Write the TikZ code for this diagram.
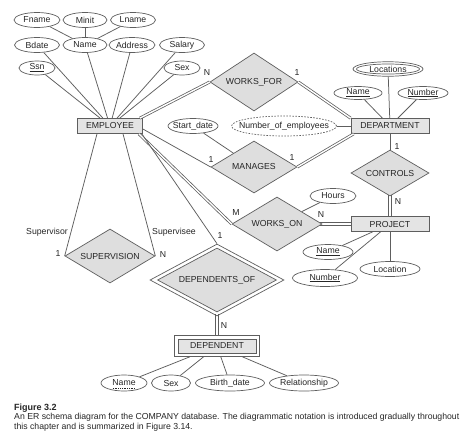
\documentclass[tikz,border=0pt]{standalone}
\usepackage{fontspec}
\setmainfont{Liberation Sans}
\usetikzlibrary{shapes.geometric,calc}
\definecolor{edge}{HTML}{5E5E5E}
\definecolor{boxfill}{HTML}{E4E4E4}
\definecolor{relfill}{HTML}{DEDEDE}
\definecolor{ink}{HTML}{262626}
\newcommand\zw[1]{\makebox[0pt]{#1}}
\newsavebox\ulbox
\newcommand\dotul[1]{\sbox\ulbox{#1}\rlap{\raisebox{-2.3pt}[0pt][0pt]{\hbox to\wd\ulbox{\xleaders\hbox to 1.7pt{\hss\rule{0.85pt}{0.45pt}\hss}\hfill}}}\copy\ulbox}
\tikzset{
  base/.style={font=\fontsize{8.7}{10}\selectfont, text=ink},
  entity/.style={base, rectangle, draw=edge, fill=boxfill, line width=0.7pt, minimum width=#1, minimum height=15pt, inner sep=0pt},
  attr/.style={base, ellipse, draw=edge, fill=white, line width=0.7pt, minimum width=#1, minimum height=15pt, inner sep=0pt},
  rel/.style 2 args={base, diamond, draw=edge, fill=relfill, line width=0.7pt, minimum width=#1, minimum height=#2, inner sep=0pt},
  conn/.style={draw=edge, line width=0.75pt},
  dconn/.style={draw=white, line width=1.4pt, preaction={draw=edge, line width=2.9pt}},
  card/.style={base, inner sep=0pt},
  capt/.style={font=\fontsize{8.7}{10}\selectfont, text=ink, inner sep=0pt, anchor=base west},
}
\begin{document}
\begin{tikzpicture}[x=1pt, y=-1pt]
\useasboundingbox (0,0) rectangle (474,437);
\fill[white] (0,0) rectangle (474,437);

% ---------- EMPLOYEE ----------
\node[entity=65] (emp) at (110,126) {EMPLOYEE};
\node[attr=46] (fname) at (37,20) {\zw{Fname}};
\node[attr=44] (minit) at (85,20) {\zw{Minit}};
\node[attr=45] (lname) at (133,20) {\zw{Lname}};
\node[attr=45] (bdate) at (37,45) {\zw{Bdate}};
\node[attr=44] (ename) at (85,45) {\zw{Name}};
\node[attr=46] (addr) at (132,45) {\zw{Address}};
\node[attr=45] (salary) at (182,45) {\zw{Salary}};
\node[attr=36,minimum height=14pt] (ssn) at (37,68) {\zw{\underline{Ssn}}};
\node[attr=36,minimum height=14pt] (sex) at (182,68) {\zw{Sex}};

\draw[conn] (fname) -- (ename);
\draw[conn] (minit) -- (ename);
\draw[conn] (lname) -- (ename);
\foreach \a in {ssn,bdate,ename,addr,salary,sex}
  \draw[conn] (\a) -- (emp);

% ---------- DEPARTMENT ----------
\node[entity=78] (dept) at (390,126) {DEPARTMENT};
\node[attr=70, minimum height=14.5pt] (locs) at (388,69) {};
\node[attr=63, minimum height=10pt] (locsin) at (locs.center) {\zw{Locations}};
\node[attr=48, minimum height=13pt] (dname) at (358,93) {\zw{\underline{Name}}};
\node[attr=50, minimum height=13pt] (dnum) at (423,93) {\zw{\underline{Number}}};
\node[attr=105, minimum height=20pt, dash pattern=on 1.6pt off 1.4pt] (nemp) at (284,126) {\zw{Number\_of\_employees}};
\draw[conn] (locs) -- (dept);
\draw[conn] (dname) -- (dept);
\draw[conn] (dnum) -- (dept);
\draw[conn] (nemp) -- (dept);

% ---------- WORKS_FOR ----------
\node[rel={88}{58}] (wf) at (254,82) {\zw{WORKS\_FOR}};
\draw[dconn] ($(emp.north east)+(-3,0)$) -- (wf.west);
\draw[dconn] (wf.east) -- (dept.north west);
\node[card] (wfn) at (207,73) {N};
\node[card] (wf1) at (297,73) {1};

% ---------- MANAGES ----------
\node[attr=50] (sdate) at (193,126) {\zw{Start\_date}};
\node[rel={86}{52}] (man) at (254,167) {\zw{MANAGES}};
\draw[conn] ($(emp.east)+(0,3)$) -- (man.west);
\draw[dconn] (man.east) -- ($(dept.south west)+(3,0)$);
\draw[conn] (sdate) -- (man);
\node[card] (man1a) at (211,160) {1};
\node[card] (man1b) at (292,158) {1};

% ---------- CONTROLS / PROJECT ----------
\node[rel={78}{46}] (ctrl) at (390,173) {\zw{CONTROLS}};
\node[entity=78] (proj) at (390,224) {PROJECT};
\draw[conn] (dept.south) -- (ctrl.north);
\draw[conn] ($(ctrl.south)+(-1.2,-1.5)$) -- ($(proj.north)+(-1.2,0)$);
\draw[conn] ($(ctrl.south)+(1.2,-1.5)$) -- ($(proj.north)+(1.2,0)$);
\node[card] (ctrl1) at (397,147) {1};
\node[card] (ctrln) at (398,202) {N};

\node[attr=50] (pname) at (328,252) {\zw{\underline{Name}}};
\node[attr=65, minimum height=17pt] (pnum) at (325,278) {\zw{\underline{Number}}};
\node[attr=60] (ploc) at (390,269) {\zw{Location}};
\draw[conn] (pname) -- (proj);
\draw[conn] (pnum) -- (proj);
\draw[conn] (ploc) -- (proj);

% ---------- WORKS_ON ----------
\node[attr=46] (hours) at (333,196) {\zw{Hours}};
\node[rel={90}{54}] (won) at (277,224) {\zw{WORKS\_ON}};
\draw[conn] (hours) -- (won);
\draw[dconn] ($(emp.south east)+(-4,0)$) -- (won.west);
\draw[conn] ($(won.east)+(-2.5,-1.2)$) -- ($(proj.west)+(0,-1.2)$);
\draw[conn] ($(won.east)+(-2.5,1.2)$) -- ($(proj.west)+(0,1.2)$);
\node[card] (wonm) at (236,213) {M};
\node[card] (wonn) at (321,215) {N};

% ---------- SUPERVISION ----------
\node[rel={90}{54}] (sup) at (110,256) {\zw{SUPERVISION}};
\draw[conn] ($(emp.south)+(-13,0)$) -- (sup.west);
\draw[conn] ($(emp.south)+(13,0)$) -- (sup.east);
\node[card] (suplab) at (47,232) {Supervisor};
\node[card] (seelab) at (174,232) {Supervisee};
\node[card] (sup1) at (58,254) {1};
\node[card] (supn) at (163,255) {N};

% ---------- DEPENDENTS_OF / DEPENDENT ----------
\node[rel={134}{72}, fill=white] (dof) at (217,280) {};
\node[rel={119}{64}] (dofin) at (dof.center) {\zw{DEPENDENTS\_OF}};
\draw[conn] ($(emp.south east)+(-1,0)$) -- (dof.north);
\node[card] (dof1) at (220,236) {1};
\node[entity=85, minimum height=21pt, fill=white] (dpent) at (217,346) {};
\node[entity=78, minimum height=14pt] (dpentin) at (dpent.center) {DEPENDENT};
\draw[conn] ($(dof.south)+(-1.2,-2)$) -- ($(dpent.north)+(-1.2,0)$);
\draw[conn] ($(dof.south)+(1.2,-2)$) -- ($(dpent.north)+(1.2,0)$);
\node[card] (depcard) at (224,326) {N};

\node[attr=46, minimum height=16pt] (dpname) at (124,383) {\zw{\dotul{Name}}};
\node[attr=39, minimum height=16pt] (dpsex) at (171,383) {\zw{Sex}};
\node[attr=69, minimum height=16pt] (bdt) at (230,383) {\zw{Birth\_date}};
\node[attr=69, minimum height=16pt] (relship) at (304,383) {\zw{Relationship}};
\foreach \a in {dpname,dpsex,bdt,relship}
  \draw[conn] (\a) -- (dpent);

% ---------- caption ----------
\node[capt, font=\fontsize{9}{10}\selectfont\bfseries] (fig) at (14,410) {Figure 3.2};
\node[capt] (cap1) at (14,419) {An ER schema diagram for the COMPANY database. The diagrammatic notation is introduced gradually throughout};
\node[capt] (cap2) at (14,429.5) {this chapter and is summarized in Figure 3.14.};
\end{tikzpicture}
\end{document}
